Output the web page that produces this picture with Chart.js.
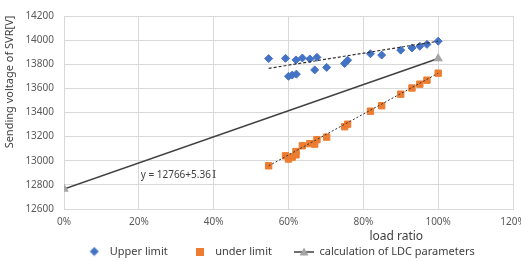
<!DOCTYPE html>
<html>
<head>
<meta charset="utf-8">
<script src="https://cdn.jsdelivr.net/npm/chart.js@4/dist/chart.umd.min.js"></script>
<style>
  html, body { margin: 0; padding: 0; background: #fff; }
  #wrap { width: 521px; height: 261px; }
</style>
</head>
<body>
<div id="wrap"><canvas id="myChart"></canvas></div>
<script>
// load ratio (x) and sending voltage (y)
var upperX = [0.547, 0.592, 0.62, 0.637, 0.657, 0.676, 0.60, 0.61, 0.621, 0.67, 0.702, 0.75, 0.758, 0.819, 0.849, 0.90, 0.93, 0.951, 0.97, 1.00];
var upperY = [13847, 13849, 13836, 13852, 13844, 13857, 13700, 13710, 13718, 13753, 13774, 13806, 13833, 13887, 13876, 13917, 13935, 13949, 13965, 13991];

var underX = [0.547, 0.592, 0.60, 0.61, 0.62, 0.62, 0.637, 0.657, 0.67, 0.676, 0.702, 0.75, 0.758, 0.819, 0.849, 0.90, 0.93, 0.951, 0.97, 1.00];
var underY = [12958, 13041, 13014, 13030, 13049, 13076, 13124, 13142, 13138, 13175, 13196, 13282, 13303, 13411, 13456, 13552, 13603, 13635, 13668, 13726];

// LDC line end points
var ldcX = [0, 1.0];
var ldcY = [12766, 13847];

// trend lines (end points)
var upperTrendX = [0.547, 1.0];
var upperTrendY = [13766, 13991];
var underTrendX = [0.547, 1.0];
var underTrendY = [12958, 13726];

var xTicks = [0, 0.2, 0.4, 0.6, 0.8, 1.0, 1.2];
var equation = 'y = 12766+5.36';

function pts(xs, ys) {
    return xs.map(function (x, i) { return { x: x, y: ys[i] }; });
}

var fontFam = "'Noto Sans', 'DejaVu Sans', sans-serif";

// little canvases used as legend markers
function marker(w, h, draw) {
    var c = document.createElement('canvas');
    c.width = w; c.height = h;
    draw(c.getContext('2d'));
    return c;
}
var diamondMark = marker(10, 10, function (g) {
    g.fillStyle = '#4472C4';
    g.beginPath(); g.moveTo(5, 0.5); g.lineTo(9.5, 5); g.lineTo(5, 9.5); g.lineTo(0.5, 5); g.closePath(); g.fill();
});
var squareMark = marker(8, 8, function (g) {
    g.fillStyle = '#ED7D31';
    g.fillRect(0, 0, 8, 8);
});
var ldcMark = marker(20, 9, function (g) {
    g.strokeStyle = '#404040'; g.lineWidth = 1.5;
    g.beginPath(); g.moveTo(0, 5); g.lineTo(20, 5); g.stroke();
    g.fillStyle = '#A5A5A5';
    g.beginPath(); g.moveTo(10, 0.5); g.lineTo(14.5, 8.5); g.lineTo(5.5, 8.5); g.closePath(); g.fill();
});
var legendMarks = [diamondMark, squareMark, ldcMark];

// draws the axis titles and the equation label, and places the legend box
var extraText = {
    id: 'extraText',
    beforeUpdate: function (chart) {
        var lg = chart.legend;
        if (lg && !lg._patched) {
            lg._patched = true;
            var baseFit = Object.getPrototypeOf(lg).fit;
            lg.fit = function () {
                baseFit.call(this);
                this.height = 23;
                this.lineWidths = this.lineWidths.map(function (w) { return w - 46; });
            };
        }
    },
    afterLayout: function (chart) {
        if (chart.legend) {
            chart.legend.top -= 14;
            chart.legend.height += 14;
        }
    },
    afterDraw: function (chart) {
        var ctx = chart.ctx;
        var area = chart.chartArea;
        var xs = chart.scales.x, ys = chart.scales.y;
        ctx.save();
        ctx.fillStyle = '#404040';
        ctx.textBaseline = 'middle';

        // y title
        ctx.font = '11px ' + fontFam;
        ctx.textAlign = 'center';
        ctx.translate(10, area.top + 66);
        ctx.rotate(-Math.PI / 2);
        ctx.fillText('Sending voltage of SVR[V]', 0, 0);
        ctx.setTransform(1, 0, 0, 1, 0, 0);

        // x title
        ctx.font = '12px ' + fontFam;
        ctx.fillText('load ratio', area.left + (area.right - area.left) * 0.74, area.bottom + 28);

        // equation
        ctx.font = '10px ' + fontFam;
        ctx.textAlign = 'left';
        var ex = xs.getPixelForValue(0.205), ey = ys.getPixelForValue(12880);
        ctx.fillText(equation, ex, ey);
        var w = ctx.measureText(equation).width;
        ctx.font = '11px "DejaVu Serif", serif';
        ctx.fillText('I', ex + w + 1, ey);
        ctx.restore();
    }
};

var ctx = document.getElementById('myChart').getContext('2d');
var chart = new Chart(ctx, {
    type: 'scatter',
    data: {
        datasets: [{
            label: 'Upper limit',
            data: pts(upperX, upperY),
            pointStyle: 'rectRot',
            pointRadius: 4,
            backgroundColor: '#4472C4',
            borderColor: '#4472C4',
            order: 2
        }, {
            label: 'under limit',
            data: pts(underX, underY),
            pointStyle: 'rect',
            pointRadius: 4.5,
            backgroundColor: '#ED7D31',
            borderColor: '#ED7D31',
            order: 2
        }, {
            label: 'calculation of LDC parameters',
            data: pts(ldcX, ldcY),
            showLine: true,
            borderColor: '#404040',
            borderWidth: 1.5,
            pointStyle: 'triangle',
            pointRadius: 4,
            pointBackgroundColor: '#A5A5A5',
            pointBorderColor: '#A5A5A5',
            backgroundColor: '#A5A5A5',
            order: 1
        }, {
            label: 'trend1',
            data: pts(upperTrendX, upperTrendY),
            showLine: true,
            borderColor: '#333',
            borderWidth: 1.2,
            borderDash: [3, 2],
            pointRadius: 0,
            order: 0
        }, {
            label: 'trend2',
            data: pts(underTrendX, underTrendY),
            showLine: true,
            borderColor: '#333',
            borderWidth: 1,
            borderDash: [2, 2],
            pointRadius: 0,
            order: 0
        }]
    },
    options: {
        responsive: true,
        maintainAspectRatio: false,
        animation: false,
        layout: { padding: { left: 0, right: 8, top: 10, bottom: 0 } },
        scales: {
            x: {
                type: 'linear',
                min: 0,
                max: 1.2,
                afterBuildTicks: function (s) { s.ticks = xTicks.map(function (v) { return { value: v }; }); },
                ticks: {
                    color: '#595959',
                    font: { size: 10, family: fontFam },
                    padding: 7,
                    callback: function (v) { return Math.round(v * 100) + '%'; }
                },
                grid: { color: '#d9d9d9', drawTicks: false },
                border: { color: '#d9d9d9' },
                afterFit: function (s) { s.height = 29; s.paddingLeft = 0; s.paddingRight = 0; }
            },
            y: {
                min: 12600,
                max: 14200,
                ticks: {
                    stepSize: 200,
                    color: '#595959',
                    font: { size: 10, family: fontFam },
                    padding: 10,
                    callback: function (v) { return String(v); }
                },
                grid: { color: '#d9d9d9', drawTicks: false },
                border: { color: '#d9d9d9' },
                afterFit: function (s) { s.width = 64; }
            }
        },
        plugins: {
            legend: {
                position: 'bottom',
                labels: {
                    usePointStyle: true,
                    pointStyleWidth: 20,
                    boxHeight: 8,
                    padding: 22,
                    color: '#404040',
                    font: { size: 11, family: fontFam },
                    generateLabels: function (chart) {
                        var items = Chart.defaults.plugins.legend.labels.generateLabels(chart);
                        return items.filter(function (it) { return it.datasetIndex < 3; })
                            .sort(function (a, b) { return a.datasetIndex - b.datasetIndex; })
                            .map(function (it) { it.pointStyle = legendMarks[it.datasetIndex]; return it; });
                    }
                }
            },
            tooltip: { enabled: false }
        }
    },
    plugins: [extraText]
});
</script>
</body>
</html>
